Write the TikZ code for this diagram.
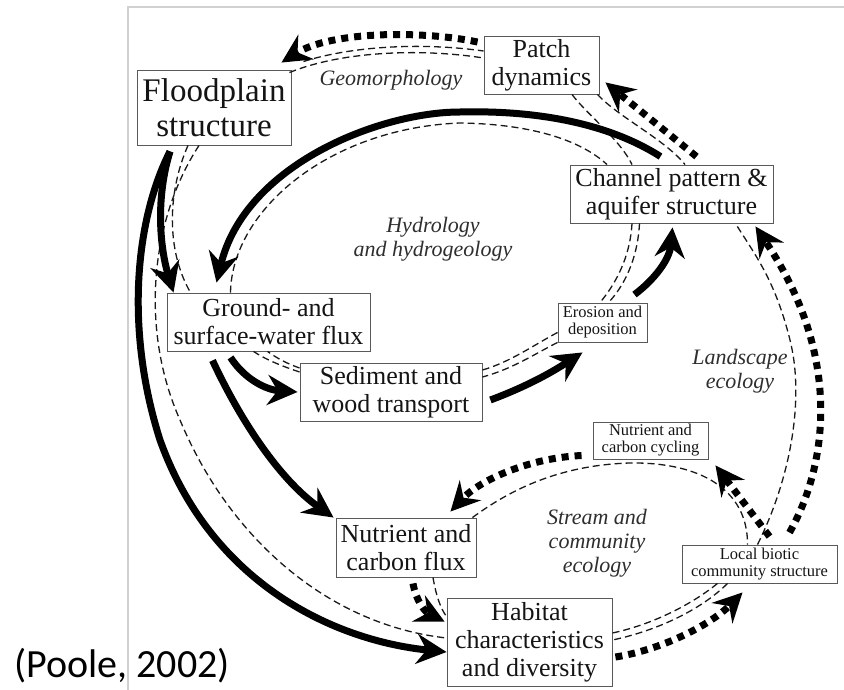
\documentclass[tikz,border=0pt]{standalone}
\usepackage{fontspec}
\setmainfont{Liberation Serif}
\newfontfamily\citefont{Carlito}
\usepackage{tikz}
\usetikzlibrary{arrows.meta,calc}

\begin{document}
\begin{tikzpicture}[x=1pt,y=-1pt,
		box/.style={draw=black!65,line width=0.9pt,inner sep=0pt,align=center,text=black!92},
		big/.style={box,font=\fontsize{33}{35}\selectfont},
		mid/.style={box,font=\fontsize{26}{28}\selectfont},
		small/.style={box,font=\fontsize{16.5}{17}\selectfont},
		field/.style={align=center,inner sep=0pt,text=black!82,font=\fontsize{22}{24}\selectfont\itshape},
		flow/.style={line width=7pt,-{Stealth[length=30pt,width=30pt,inset=10pt]}},
		feedback/.style={line width=7pt,dash pattern=on 7pt off 6pt,-{Stealth[length=29pt,width=29pt,inset=10pt]}},
		loopline/.style={black!90,line width=1.3pt,dash pattern=on 7pt off 4pt}]
			\useasboundingbox (0,0) rectangle (844,690);
			\draw[black!18,line width=2pt] (128,690) -- (128,7) -- (844,7);
			\node[big,minimum width=154pt,minimum height=75pt] (flood) at (214,107.5) {Floodplain\\structure};
			\node[mid,minimum width=115pt,minimum height=58pt] (patch) at (541.5,65) {Patch\\dynamics};
			\node[mid,minimum width=203pt,minimum height=58pt] (channel) at (671.5,194) {Channel pattern \&\\aquifer structure};
			\node[mid,minimum width=203pt,minimum height=58pt] (ground) at (268.5,322) {Ground- and\\surface-water flux};
			\node[mid,minimum width=182pt,minimum height=58pt] (sediment) at (391,392) {Sediment and\\wood transport};
			\node[small,minimum width=89pt,minimum height=39pt] (erosion) at (602.5,322.5) {Erosion and\\deposition};
			\node[small,minimum width=115pt,minimum height=37pt] (cycling) at (650.5,440.5) {Nutrient and\\carbon cycling};
			\node[mid,minimum width=140pt,minimum height=59pt] (nflux) at (406,547.5) {Nutrient and\\carbon flux};
			\node[mid,minimum width=165pt,minimum height=88pt] (habitat) at (529.5,642) {Habitat\\characteristics\\and diversity};
			\node[small,minimum width=155pt,minimum height=38pt] (local) at (759.5,564) {Local biotic\\community structure};
			\node[field] (geo) at (391,80) {Geomorphology};
			\node[field] (hydro) at (433,239) {Hydrology\\and hydrogeology};
			\node[field] (land) at (740,371) {Landscape\\ecology};
			\node[field] (stream) at (597,543) {Stream and\\community\\ecology};
			\node[anchor=base west,inner sep=0pt,font=\citefont\fontsize{40}{44}\selectfont] (cite) at (14,677) {(Poole, 2002)};
			\draw[loopline] ([xshift=-2pt,yshift=-3pt]flood.north east) .. controls +(51,-21) and +(-64,-10) .. ([yshift=7pt]patch.west);
			\draw[loopline] ([xshift=12pt,yshift=8pt]flood.north east) .. controls +(47,-15) and +(-64,-9) .. ([yshift=14pt]patch.west);
			\draw[loopline] ([xshift=30.5pt]patch.south) .. controls +(15,20) and +(-12,-25) .. ([xshift=-39.5pt]channel.north);
			\draw[loopline] ([xshift=56pt]patch.south) .. controls +(20,22) and +(-20,-25) .. ([xshift=13.5pt]channel.north);
			\draw[loopline] ([xshift=-38pt]ground.north) .. controls +(1.5,-83) and +(-130,5) .. (460,123) .. controls +(70,1) and +(-27,-25) .. ([xshift=-64.5pt]channel.north);
			\draw[loopline] ([xshift=-39.5pt]channel.south) .. controls +(-2,35) and +(15,-18) .. ([xshift=-2.5pt]erosion.north);
			\draw[loopline] ([xshift=-32pt]channel.south) .. controls +(-2,37) and +(15,-16) .. ([xshift=6pt]erosion.north);
			\draw[loopline] ([yshift=-10pt]erosion.west) .. controls +(-23,12) and +(28,-8) .. ([yshift=22pt]sediment.east);
			\draw[loopline] (erosion.south west) .. controls +(-22,11) and +(30,-8) .. ([yshift=15pt]sediment.east);
			\draw[loopline] ([yshift=20pt]sediment.west) .. controls +(-18,-6) and +(12,8) .. ([xshift=-15pt]ground.south);
			\draw[loopline] ([yshift=24pt]sediment.west) .. controls +(-14,-5) and +(10,7) .. ([xshift=-1pt]ground.south);
			\draw[loopline] ([xshift=-26pt]flood.south) .. controls +(-20,45) and +(-25,-43) .. ([xshift=-78pt]ground.north);
			\draw[loopline] ([xshift=-15pt]flood.south) .. controls +(-49,75) and +(-40,-90) .. (180,420) .. controls +(50,120) and +(-117,-13) .. ([yshift=4pt]habitat.west);
			\draw[loopline] ([xshift=-4pt]nflux.north east) .. controls +(38,-28) and +(-70,2) .. (630,463) .. controls +(70,-1) and +(0.5,-55) .. ([xshift=-12pt]local.north);
			\draw[loopline] ([xshift=-2pt]local.north) .. controls +(32.5,-65) and +(15,60) .. (790,340) .. controls +(-15,-60) and +(20,32) .. ([xshift=-38pt]channel.south east);
			\draw[loopline] ([xshift=-42pt]local.south) .. controls +(-27,22) and +(38,-8) .. ([yshift=9pt]habitat.east);
			\draw[loopline] ([xshift=-32pt]local.south) .. controls +(-27,27) and +(43,-9) .. ([yshift=2pt]habitat.east);
			\draw[loopline] ([xshift=27pt]nflux.south) .. controls +(3,18) and +(-6,-8) .. ([yshift=-19pt]habitat.north west);
			\draw[flow] ([xshift=-44pt,yshift=-6pt]flood.south) .. controls +(-15,49) and +(-13,-43) .. ([xshift=-95pt]ground.north);
			\draw[flow] ([xshift=-44pt,yshift=-6pt]flood.south) .. controls +(-35,69) and +(-35,-110) .. (160,440) .. controls +(50,140) and +(-117,-12) .. ([yshift=-10pt]habitat.west);
			\draw[flow] ([xshift=-38pt,yshift=-6pt]ground.south) .. controls +(15,23) and +(-30,-2) .. ([xshift=-2pt]sediment.west);
			\draw[flow] ([xshift=-56pt,yshift=-9pt]ground.south) .. controls +(28,60) and +(-54,-38) .. ([xshift=-2pt]nflux.north west);
			\draw[flow] ([xshift=8pt,yshift=-8pt]sediment.east) .. controls +(40,-15) and +(-28,18) .. ([xshift=-20pt,yshift=-10pt]erosion.south);
			\draw[flow] ([xshift=32pt,yshift=8pt]erosion.north) .. controls +(20,-15) and +(-3,32) .. ([xshift=1pt,yshift=-4pt]channel.south);
			\draw[flow] ([xshift=-11pt,yshift=8pt]channel.north) .. controls +(-50,-32) and +(80,-2) .. (460,112) .. controls +(-80,0) and +(28.5,-118) .. ([xshift=-52pt,yshift=10pt]ground.north);
			\draw[feedback] ([xshift=-6pt,yshift=23pt]patch.west) .. controls +(-58,-12) and +(49,-31) .. ([xshift=-10pt,yshift=7pt]flood.north east);
			\draw[feedback] ([xshift=25pt,yshift=8pt]channel.north) -- ([xshift=6pt,yshift=12pt]patch.south east);
			\draw[feedback] ([xshift=30pt,yshift=12pt]local.north) .. controls +(35.5,-63) and +(90,134) .. ([xshift=-18pt,yshift=-3pt]channel.south east);
			\draw[feedback] ([xshift=10pt,yshift=8pt]local.north) -- ([xshift=7pt,yshift=-6pt]cycling.south east);
			\draw[feedback] ([xshift=-11pt,yshift=-15pt]cycling.west) .. controls +(-52,2.5) and +(30,-32) .. ([xshift=-26pt,yshift=6pt]nflux.north east);
			\draw[feedback] ([xshift=7pt,yshift=-6pt]nflux.south) .. controls +(3,17) and +(-20,-10) .. ([xshift=-2pt,yshift=-24pt]habitat.north west);
			\draw[feedback] ([xshift=3pt,yshift=-15pt]habitat.east) .. controls +(45,-7) and +(-32.5,33) .. ([xshift=-17pt,yshift=-9pt]local.south);
		\end{tikzpicture}
\end{document}
